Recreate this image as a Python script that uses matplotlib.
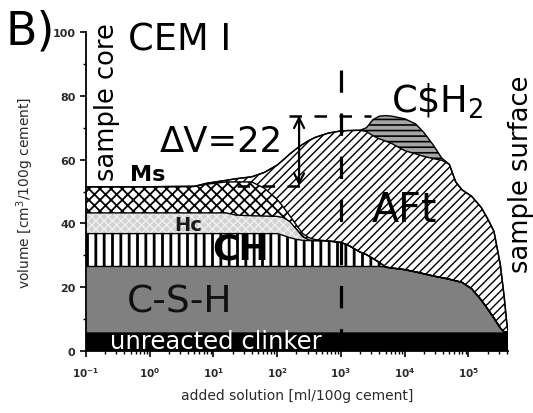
import numpy as np
import matplotlib
matplotlib.use("Agg")
import matplotlib.pyplot as plt
from matplotlib.ticker import FixedLocator, LogLocator, NullFormatter

# log10 of added solution [ml/100g cement]
log_solution = np.array([
    -1.0, 0.0, 0.7, 0.9, 1.2, 1.35, 1.6, 1.8, 2.0, 2.1,
    2.2, 2.3, 2.4, 2.5, 2.6, 2.8, 3.0, 3.1, 3.3, 3.4,
    3.5, 3.6, 3.7, 3.8, 4.0, 4.17, 4.3, 4.45, 4.58, 4.7,
    4.8, 4.9, 5.05, 5.2, 5.3, 5.4, 5.5, 5.56, 5.6, 5.62])

# phase volumes [cm3/100g cement], stacked from the bottom
vol_clinker = np.full(40, 6.0)
vol_csh = np.array([
    20.5, 20.5, 20.5, 20.5, 20.5, 20.5, 20.5, 20.5, 20.5, 20.5,
    20.5, 20.5, 20.5, 20.5, 20.5, 20.5, 20.5, 20.5, 20.5, 20.5,
    20.5, 20.5, 20.3, 20.0, 19.5, 18.8, 18.2, 17.5, 17.0, 16.5,
    16.0, 15.5, 13.5, 10.0, 7.2, 4.3, 1.2, 0.0, 0.0, 0.0])
vol_ch = np.array([
    10.3, 10.3, 10.3, 10.3, 10.3, 10.3, 10.3, 10.3, 10.3, 9.7,
    9.0, 8.5, 8.2, 8.1, 8.1, 8.0, 7.5, 6.8, 4.5, 3.7,
    2.5, 1.3, 0, 0, 0, 0, 0, 0, 0, 0,
    0, 0, 0, 0, 0, 0, 0, 0, 0, 0])
vol_hc = np.array([
    6.5, 6.5, 6.5, 6.5, 6.5, 5.8, 5.6, 5.5, 5.4, 5.6,
    5.0, 3.2, 1.1, 0.2, 0, 0, 0, 0, 0, 0,
    0, 0, 0, 0, 0, 0, 0, 0, 0, 0,
    0, 0, 0, 0, 0, 0, 0, 0, 0, 0])
vol_ms = np.array([
    8.2, 8.2, 8.3, 9.0, 9.7, 10.4, 10.6, 8.7, 5.3, 3.2,
    1.8, 1.3, 1.0, 0.7, 0.3, 0, 0, 0, 0, 0,
    0, 0, 0, 0, 0, 0, 0, 0, 0, 0,
    0, 0, 0, 0, 0, 0, 0, 0, 0, 0])
vol_aft = np.array([
    0.0, 0.0, 0.0, 0.3, 0.5, 1.0, 1.6, 5.0, 10.8, 15.0,
    19.5, 23.9, 28.0, 30.5, 32.1, 33.8, 35.0, 35.8, 38.2, 38.6,
    38.5, 38.7, 39.5, 39.0, 37.3, 37.0, 36.8, 36.8, 36.8, 36.0,
    31.0, 29.0, 29.0, 29.0, 28.3, 27.2, 19.8, 11.0, 3.0, 0.0])
vol_gypsum = np.array([
    0, 0, 0, 0, 0, 0, 0, 0, 0, 0,
    0, 0, 0, 0, 0, 0, 0, 0, 0, 1.2,
    5.0, 7.1, 8.0, 8.6, 10.0, 9.4, 7.5, 4.2, 0.7, 0,
    0, 0, 0, 0, 0, 0, 0, 0, 0, 0])

delta_v = 22.0
initial_volume = 51.8
split_solution = 1e3

x_ticks = [1e-1, 1e0, 1e1, 1e2, 1e3, 1e4, 1e5]
x_tick_labels = ["$10^{-1}$", "$10^{0}$", "$10^{1}$", "$10^{2}$",
                 "$10^{3}$", "$10^{4}$", "$10^{5}$"]
y_ticks = [0, 20, 40, 60, 80, 100]

plt.rcParams["mathtext.default"] = "regular"
plt.rcParams["font.family"] = ["DejaVu Sans"]

fig = plt.figure(figsize=(5.33, 4.14), dpi=100)
ax = fig.add_axes([86 / 533, 1 - 352 / 414, 422 / 533, 319 / 414])

x = np.power(10.0, log_solution)
layers = [
    (vol_clinker, "black", None, None, 1.0),
    (vol_csh, "#808080", None, None, 1.0),
    (vol_ch, "white", "black", "||", 2.0),
    (vol_hc, "#d2d2d2", "#f0f0f0", "xxxx", 1.0),
    (vol_ms, "white", "black", "xxx", 1.3),
    (vol_aft, "white", "black", "////", 1.0),
    (vol_gypsum, "#a6a6a6", "black", "---", 1.2),
]

bottom = np.zeros_like(x)
tops = []
for vol, fc, hc, hatch, hlw in layers:
    top = bottom + vol
    plt.rcParams["hatch.linewidth"] = hlw
    coll = ax.fill_between(x, bottom, top, facecolor=fc,
                           edgecolor=hc if hc else fc, hatch=hatch,
                           linewidth=0, zorder=1)
    if hasattr(coll, "set_hatch_linewidth"):
        coll.set_hatch_linewidth(hlw)
    tops.append(top)
    bottom = top

for top in tops[1:]:
    ax.plot(x, top, color="black", lw=1.0, zorder=2, solid_joinstyle="round")

# annotation: volume increase and the core/surface split
ax.plot([split_solution, split_solution], [0, 88], color="black", lw=2.3,
        dashes=(7, 6.5), zorder=4)
ax.plot([155, 2950], [initial_volume + delta_v] * 2, color="black", lw=1.8,
        dashes=(5, 5), zorder=4)
ax.plot([23, 316], [initial_volume] * 2, color="black", lw=1.8,
        dashes=(5, 5), zorder=4)
ax.annotate("", xy=(220, initial_volume + delta_v), xytext=(220, initial_volume),
            arrowprops=dict(arrowstyle="<->", lw=1.6, color="black",
                            mutation_scale=18, shrinkA=0, shrinkB=0),
            zorder=5)
ax.text(1.43, 65.8, "ΔV=22", fontsize=25.5, ha="left", va="center", zorder=6)

ax.text(0.487, 55.5, "Ms", fontsize=16, weight="bold",
        ha="left", va="center", zorder=6)
ax.text(2.45, 39.5, "Hc", fontsize=14, weight="bold",
        color="#1a1a1a", ha="left", va="center", zorder=6)
ax.text(9.64, 32.0, "CH", fontsize=26, weight="bold",
        ha="left", va="center", zorder=6)
ax.text(0.436, 15.4, "C-S-H", fontsize=27, color="#111111",
        ha="left", va="center", zorder=6)
ax.text(0.237, 3.2, "unreacted clinker", fontsize=17.5, color="white",
        ha="left", va="center", zorder=6)
ax.text(3048, 44.2, "AFt", fontsize=28.5, ha="left", va="center", zorder=6)
ax.text(6030, 78.7, "C\\$H$_2$", fontsize=26.5, ha="left", va="center",
        zorder=6)

fig.text(30 / 533, 1 - 32 / 414, "B)", fontsize=33, ha="center", va="center")
fig.text(128 / 533, 1 - 40 / 414, "CEM I", fontsize=26.5, ha="left",
         va="center")
fig.text(107 / 533, 1 - 102 / 414, "sample core", fontsize=18.5,
         rotation=90, ha="center", va="center")
fig.text(521 / 533, 1 - 174 / 414, "sample surface", fontsize=18.5,
         rotation=90, ha="center", va="center")

ax.set_xscale("log")
ax.set_xlim(1e-1, 10 ** 5.62)
ax.set_ylim(0, 100)
ax.xaxis.set_major_locator(FixedLocator(x_ticks))
ax.set_xticklabels(x_tick_labels)
ax.xaxis.set_minor_locator(LogLocator(base=10, subs=np.arange(2, 10)))
ax.xaxis.set_minor_formatter(NullFormatter())
ax.yaxis.set_major_locator(FixedLocator(y_ticks))
ax.yaxis.set_minor_locator(FixedLocator([10, 30, 50, 70, 90]))

for side in ("top", "right"):
    ax.spines[side].set_visible(False)
for side in ("left", "bottom"):
    ax.spines[side].set_linewidth(1.3)
ax.tick_params(which="major", length=4.5, width=1.2, labelcolor="#2a2a2a")
ax.tick_params(which="minor", length=2.5, width=1.0)
ax.tick_params(axis="y", which="major", pad=3, labelsize=8)
ax.tick_params(axis="x", which="major", pad=6, labelsize=7.5)
for lab in ax.get_xticklabels() + ax.get_yticklabels():
    lab.set_fontweight("bold")

ax.set_xlabel("added solution [ml/100g cement]", fontsize=10,
              color="#2a2a2a", labelpad=6)
ax.set_ylabel("volume [cm$^3$/100g cement]", fontsize=10,
              color="#2a2a2a", labelpad=12)

fig.savefig("out.png", dpi=100)
